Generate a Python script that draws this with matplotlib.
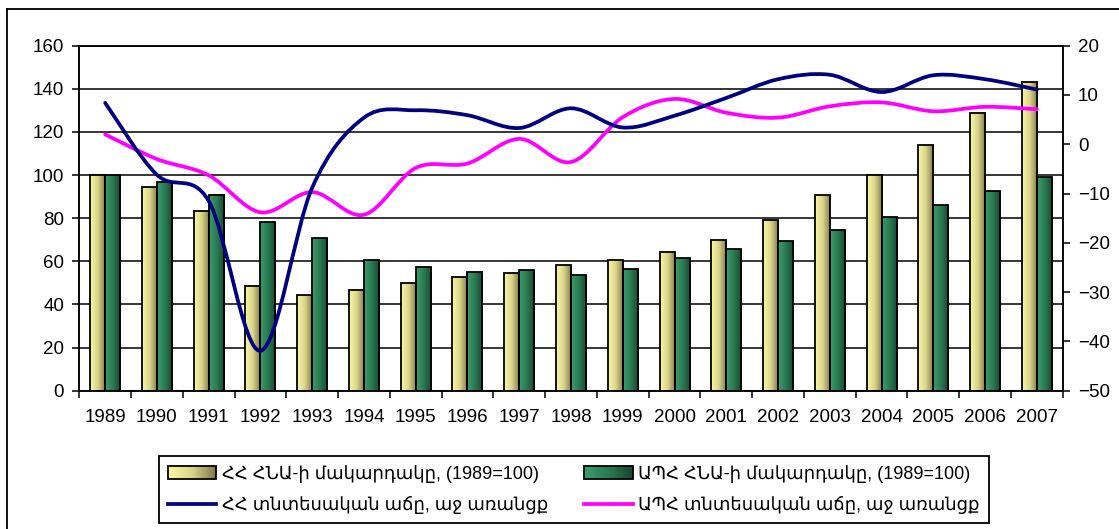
import numpy as np
import matplotlib
matplotlib.use("Agg")
import matplotlib.pyplot as plt
from matplotlib.path import Path
from matplotlib.patches import PathPatch, Rectangle
from matplotlib.lines import Line2D
from matplotlib.colors import LinearSegmentedColormap
from matplotlib.legend_handler import HandlerBase

# data
years = [str(y) for y in range(1989, 2008)]
arm_gdp_level = [100, 94.3, 83.3, 48.7, 44.4, 46.6, 49.9, 52.7, 54.4, 58.4,
                 60.4, 64.1, 70.0, 79.0, 90.6, 99.9, 113.8, 129.0, 143.3]
cis_gdp_level = [100, 96.8, 90.9, 78.2, 70.7, 60.7, 57.3, 55.0, 55.8, 53.7,
                 56.5, 61.5, 65.5, 69.2, 74.3, 80.5, 86.1, 92.5, 99.1]
arm_growth = [8.4, -6.2, -11.5, -41.9, -8.8, 5.4, 6.9, 5.9, 3.3, 7.3,
              3.4, 5.8, 9.4, 13.2, 14.1, 10.6, 14.0, 13.2, 11.1]
cis_growth = [2.0, -3.0, -6.3, -13.8, -9.7, -14.3, -4.8, -3.9, 1.1, -3.6,
              5.5, 9.2, 6.4, 5.4, 7.7, 8.5, 6.7, 7.6, 7.1]

labels = ["ՀՀ ՀՆԱ-ի մակարդակը, (1989=100)",
          "ԱՊՀ ՀՆԱ-ի մակարդակը, (1989=100)",
          "ՀՀ տնտեսական աճը, աջ առանցք",
          "ԱՊՀ տնտեսական աճը, աջ առանցք"]

font_list = ["Liberation Sans", "DejaVu Sans"]
plt.rcParams["font.family"] = font_list

yellow_cols = ["#fbf8a6", "#d9d38a", "#7e7848"]
green_cols = ["#3a9c6a", "#2a7a52", "#17462f"]
yellow_cmap = LinearSegmentedColormap.from_list("yel", yellow_cols)
green_cmap = LinearSegmentedColormap.from_list("grn", green_cols)


def smooth_path(xs, ys):
    """ catmull-rom style bezier path, like excel's smoothed lines
    """
    pts = np.column_stack([xs, ys]).astype(float)
    n = len(pts)
    verts = [pts[0]]
    codes = [Path.MOVETO]
    for i in range(n - 1):
        p0 = pts[max(i - 1, 0)]
        p1 = pts[i]
        p2 = pts[i + 1]
        p3 = pts[min(i + 2, n - 1)]
        c1 = p1 + (p2 - p0) / 6.0
        c2 = p2 - (p3 - p1) / 6.0
        verts += [c1, c2, p2]
        codes += [Path.CURVE4] * 3
    return Path(verts, codes)


class GradientHandler(HandlerBase):
    def __init__(self, cmap):
        super().__init__()
        self.cmap = cmap

    def create_artists(self, legend, orig_handle, xdescent, ydescent,
                       width, height, fontsize, trans):
        arts = []
        n = 40
        for i in range(n):
            arts.append(Rectangle((-xdescent + width * i / n, -ydescent),
                                  width / n + 0.3, height,
                                  facecolor=self.cmap(i / (n - 1)),
                                  edgecolor="none", transform=trans))
        arts.append(Rectangle((-xdescent, -ydescent), width, height,
                              facecolor="none", edgecolor="black",
                              lw=1.3, transform=trans))
        return arts


W, H = 1119, 529
fig = plt.figure(figsize=(W / 100, H / 100), dpi=100)
x_left, x_right, y_top, y_bot = 79.3, 1062.7, 45.7, 390.7
ax = fig.add_axes([x_left / W, 1 - y_bot / H, (x_right - x_left) / W, (y_bot - y_top) / H])
ax2 = ax.twinx()

x = np.arange(len(years))
bw = 0.29
ax.set_axisbelow(True)
bars1 = ax.bar(x - bw / 2, arm_gdp_level, bw, facecolor="none", edgecolor="black", lw=1.3, zorder=3)
bars2 = ax.bar(x + bw / 2, cis_gdp_level, bw, facecolor="none", edgecolor="black", lw=1.3, zorder=3)

grad = np.linspace(0, 1, 64).reshape(1, -1)
for bars, cmap in [(bars1, yellow_cmap), (bars2, green_cmap)]:
    for b in bars:
        x0 = b.get_x()
        ax.imshow(grad, cmap=cmap, aspect="auto", interpolation="bilinear",
                  extent=[x0, x0 + b.get_width(), 0, b.get_height()], zorder=2)

ax.set_xlim(-0.5, len(years) - 0.5)
ax.set_ylim(0, 160)
ax.set_yticks(range(0, 161, 20))
ax.yaxis.grid(True, color="black", lw=1.1)

ax.set_xticks(np.arange(len(years) + 1) - 0.5)
ax.set_xticklabels([])
ax.set_xticks(x, minor=True)
ax.set_xticklabels(years, minor=True)
ax.tick_params(axis="x", which="major", direction="out", length=5, width=1.1)
ax.tick_params(axis="x", which="minor", length=0, pad=13, labelsize=13.5)
ax.tick_params(axis="y", direction="out", length=5, width=1.1, pad=6, labelsize=13.5)

ax2.set_ylim(-50, 20)
ax2.set_yticks(range(-50, 21, 10))
ax2.tick_params(axis="y", direction="out", length=5, width=1.1, pad=6, labelsize=13.5)

for a in (ax, ax2):
    for s in a.spines.values():
        s.set_linewidth(1.1)
        s.set_color("black")

ax2.add_patch(PathPatch(smooth_path(x, cis_growth), fill=False, edgecolor="#ff00ff",
                        lw=2.7, capstyle="round", joinstyle="round", zorder=4))
ax2.add_patch(PathPatch(smooth_path(x, arm_growth), fill=False, edgecolor="#000080",
                        lw=2.7, capstyle="round", joinstyle="round", zorder=5))

# legend
h_yel = Rectangle((0, 0), 1, 1)
h_grn = Rectangle((0, 0), 1, 1, label="g")
h_blue = Line2D([], [], color="#000080", lw=2.7)
h_mag = Line2D([], [], color="#ff00ff", lw=2.7)
leg = fig.legend([h_yel, h_blue, h_grn, h_mag],
                 [labels[0], labels[2], labels[1], labels[3]],
                 ncol=2, loc="upper left", bbox_to_anchor=(158.7 / W, 1 - 456 / H),
                 handler_map={h_yel: GradientHandler(yellow_cmap), h_grn: GradientHandler(green_cmap)},
                 prop={"family": font_list, "size": 13},
                 frameon=True, fancybox=False, edgecolor="black", framealpha=1,
                 handlelength=2.7, handleheight=0.7, handletextpad=0.3,
                 columnspacing=2.0, labelspacing=0.75, borderpad=0.5, borderaxespad=0)
leg.get_frame().set_linewidth(1.3)

# outer chart border (only left and top visible in crop)
fig.add_artist(Line2D([7 / W, 7 / W], [0, 1 - 9 / H], color="black", lw=1.3))
fig.add_artist(Line2D([7 / W, 1], [1 - 9 / H, 1 - 9 / H], color="black", lw=1.3))

fig.savefig("out.png", dpi=100)
